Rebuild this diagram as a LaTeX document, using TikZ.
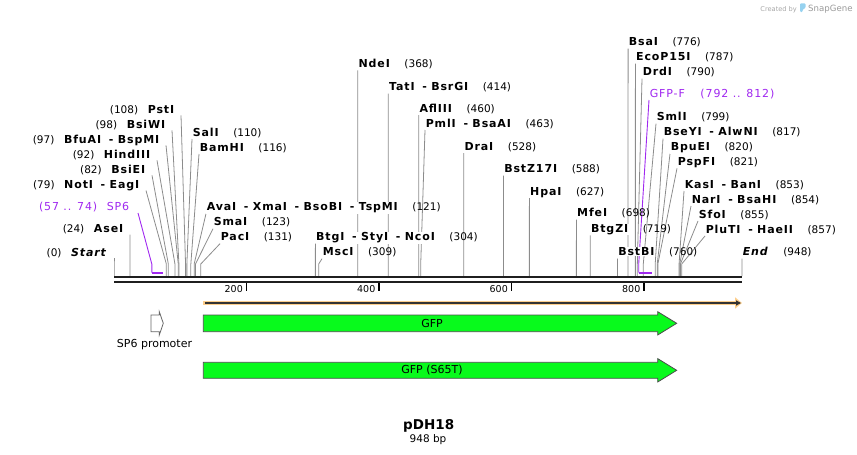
\documentclass[tikz,border=0pt]{standalone}
\usepackage{fontspec}
\setmainfont{DejaVu Sans}
\newfontfamily\cutfont[LetterSpace=8]{DejaVu Sans}
\usetikzlibrary{arrows.meta,positioning}

\definecolor{gfpgreen}{RGB}{8,250,28}
\definecolor{primer}{RGB}{160,40,240}
\definecolor{orfband}{RGB}{252,206,140}
\definecolor{sglogo}{RGB}{150,210,240}

\pgfdeclarelayer{bg}
\pgfsetlayers{bg,main}

\newcommand{\orsep}{\hspace{0.7em}-\hspace{0.4em}}

\tikzset{
  cut/.style={font=\cutfont\fontsize{11}{13}\selectfont\bfseries, inner sep=0.6pt, fill=white},
  bp/.style={font=\fontsize{10.5}{12}\selectfont, inner sep=0.6pt},
  oligotext/.style={font=\cutfont\fontsize{11}{13}\selectfont, text=primer, inner sep=0.6pt, fill=white},
  link/.style={black!45, line width=0.8pt},
  oligo/.style={primer, line width=0.9pt},
  feat/.style={draw=black!70, line width=0.8pt, fill=gfpgreen},
}

\begin{document}
\begin{tikzpicture}[x=1pt,y=-1pt]
    \useasboundingbox (0,0) rectangle (857,455);

    % backbone
    \draw[line width=1.8pt, black!88] (114,276.9) -- (742,276.9);
    \draw[line width=1.8pt, black!88] (114,281.7) -- (742,281.7);

    % ruler
    \foreach \v/\x in {200/246.5, 400/379, 600/511.5, 800/644} {
        \draw[line width=1.6pt] (\x,283.3) -- (\x,290.5);
        \node[font=\fontsize{9.5}{11}\selectfont, anchor=base east, inner sep=0pt] (r\v) at ({\x-3.5},292.7) {\v};
    }

    % sites labelled to the right
    \foreach \b/\lx/\ly/\nm [count=\k] in {
        110/192/136/SalI,
        116/199/151/BamHI,
        121/206/210.7/AvaI\orsep XmaI\orsep BsoBI\orsep TspMI,
        123/213/225.7/SmaI,
        131/220/240.7/PacI,
        304/315.4/240.7/BtgI\orsep StyI\orsep NcoI,
        309/322/255.7/MscI,
        368/357.8/67.3/NdeI,
        414/388.3/90.7/TatI\orsep BsrGI,
        460/418.7/112/AflIII,
        463/425/127/PmlI\orsep BsaAI,
        528/463.8/150/DraI,
        588/503.5/172.5/BstZ17I,
        627/529.4/195/HpaI,
        698/576.4/216.7/MfeI,
        719/590.3/232.3/BtgZI,
        760/617.5/255.5/BstBI,
        776/628.1/45.7/BsaI,
        787/635.4/60.7/EcoP15I,
        790/642/75.7/DrdI,
        799/656/120.7/SmlI,
        817/663/135.7/BseYI\orsep AlwNI,
        820/670/150.7/BpuEI,
        821/677/165.3/PspFI,
        853/684/188/KasI\orsep BanI,
        854/691/203/NarI\orsep BsaHI,
        855/698/218/SfoI,
        857/705/233/PluTI\orsep HaeII,
        948/742/255.5/\textit{End}} {
        \coordinate (s\k) at ({114+0.66245*\b},276);
        \node[cut, anchor=base west] (c\k) at (\lx,\ly) {\nm};
        \node[bp, anchor=base west] (n\k) at ([xshift=13pt]c\k.base east) {(\b)};
        \begin{pgfonlayer}{bg}
            \draw[link] (s\k) -- ++(0,-12) -- ([yshift=-3pt]c\k.base west);
        \end{pgfonlayer}
    }

    % sites labelled to the left
    \foreach \b/\rx/\ly/\nm [count=\k] in {
        0/108/256/\textit{Start},
        24/124/232.7/AseI,
        79/140/188.5/NotI\orsep EagI,
        82/146/173.3/BsiEI,
        92/151/158.3/HindIII,
        97/160/143.3/BfuAI\orsep BspMI,
        98/166/128.3/BsiWI,
        108/175/113.3/PstI} {
        \coordinate (t\k) at ({114+0.66245*\b},276);
        \node[cut, anchor=base east] (d\k) at (\rx,\ly) {\nm};
        \node[bp, anchor=base east] (m\k) at ([xshift=-8pt]d\k.base west) {(\b)};
        \begin{pgfonlayer}{bg}
            \draw[link] (t\k) -- ++(0,-12) -- ([xshift=6pt,yshift=-2pt]d\k.base east);
        \end{pgfonlayer}
    }

    % primers
    \coordinate (sp6a) at (151.8,272.7);
    \coordinate (sp6b) at (163,272.7);
    \node[oligotext, anchor=base east] (sp6) at (130,210.7) {SP6};
    \node[oligotext, anchor=base east] (sp6n) at ([xshift=-8pt]sp6.base west) {(57 .. 74)};
    \draw[primer, line width=1.8pt] (sp6a) -- (sp6b);
    \begin{pgfonlayer}{bg}
        \draw[oligo] (sp6a) -- ++(0,-8.7) -- ([xshift=8pt,yshift=-2.3pt]sp6.base east);
    \end{pgfonlayer}

    \coordinate (gfpfa) at (638.7,272.7);
    \coordinate (gfpfb) at (651.9,272.7);
    \node[oligotext, anchor=base west] (gfpf) at (649,97.3) {GFP-F};
    \node[oligotext, anchor=base west] (gfpfn) at ([xshift=14pt]gfpf.base east) {(792 .. 812)};
    \draw[primer, line width=1.8pt] (gfpfa) -- (gfpfb);
    \begin{pgfonlayer}{bg}
        \draw[oligo] (gfpfa) -- ++(0,-8.7) -- ([yshift=-2.7pt]gfpf.base west);
    \end{pgfonlayer}

    % ORF
    \coordinate (orf0) at (203.3,303);
    \coordinate (orf1) at (742,303);
    \draw[orfband, line width=4.6pt, -{Triangle[length=7pt,width=11pt]}] (orf0) -- (orf1);
    \draw[black!80, line width=1.2pt, -{Triangle[length=5pt,width=5pt]}] ([xshift=1.5pt]orf0) -- ([xshift=-1pt]orf1);

    % features
    \draw[draw=black!60, line width=0.8pt, fill=white] (151,315) -- (159.3,315) -- (159.3,311.7) -- (163.3,323.3)
        -- (159.3,335) -- (159.3,331.7) -- (151,331.7) -- cycle;
    \node[font=\fontsize{11}{13}\selectfont, anchor=base] (sp6prom) at (154.5,347.5) {SP6 promoter};

    \draw[feat] (203.3,315) -- (657.7,315) -- (657.7,311.7) -- (676.7,323.3)
        -- (657.7,335) -- (657.7,331.7) -- (203.3,331.7) -- cycle;
    \node[font=\fontsize{11}{13}\selectfont] (gfp) at (432,323.3) {GFP};

    \draw[feat] (203.3,362.3) -- (657.7,362.3) -- (657.7,358.6) -- (676.7,370.3)
        -- (657.7,382) -- (657.7,378.3) -- (203.3,378.3) -- cycle;
    \node[font=\fontsize{11}{13}\selectfont] (gfps) at (432,370.3) {GFP (S65T)};

    % title
    \node[font=\bfseries\fontsize{13.5}{15}\selectfont, anchor=base] (title) at (428.7,429.3) {pDH18};
    \node[font=\fontsize{10.5}{12}\selectfont, anchor=base] (len) at (428,442.3) {948 bp};

    % credit
    \node[font=\fontsize{6.6}{8}\selectfont, text=black!35, anchor=base east, inner sep=0pt] (crby) at (797,11) {Created by};
    \fill[sglogo, rounded corners=1pt] (800,3.3) -- (805.5,3.3) -- (805.5,8) -- (802.6,9.5) -- (802.6,12) -- (800,12) -- cycle;
    \node[font=\fontsize{8.6}{10}\selectfont, text=black!40, anchor=base west, inner sep=0pt] (sg) at (808,11.5) {SnapGene};
\end{tikzpicture}
\end{document}
